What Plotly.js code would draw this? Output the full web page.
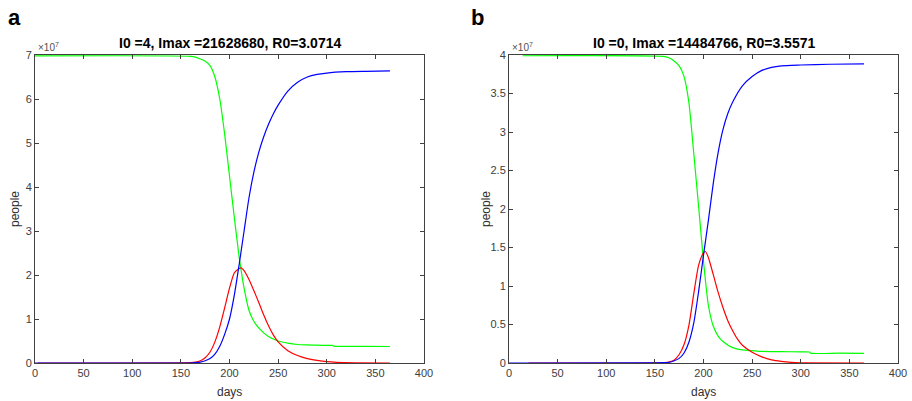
<!DOCTYPE html>
<html>
<head>
<meta charset="utf-8">
<script src="https://cdn.plot.ly/plotly-3.0.1.min.js"></script>
<style>html,body{margin:0;padding:0;background:#fff}#chart{width:912px;height:401px}</style>
</head>
<body>
<div id="chart"></div>
<script>
// ---- Panel a (values in units of 1e7 people) ----
const aS_days = [0, 160, 165, 170, 175, 180, 185, 190, 195, 200, 205, 210, 215, 220, 225, 230, 240, 250, 260, 270, 280, 290, 300, 306, 307, 320, 340, 365];
const aS_vals = [6.98, 6.97, 6.95, 6.91, 6.86, 6.76, 6.5, 6.0, 5.2, 4.25, 3.3, 2.4, 1.7, 1.2, 0.95, 0.8, 0.6, 0.5, 0.45, 0.42, 0.41, 0.405, 0.4, 0.4, 0.385, 0.38, 0.38, 0.375];
const aR_days = [0, 160, 165, 170, 175, 180, 185, 190, 195, 200, 205, 210, 215, 220, 225, 230, 235, 240, 245, 250, 260, 270, 280, 290, 300, 320, 340, 365];
const aR_vals = [0, 0.005, 0.01, 0.02, 0.05, 0.1, 0.2, 0.38, 0.65, 1.0, 1.55, 2.25, 3.0, 3.75, 4.33, 4.78, 5.13, 5.42, 5.66, 5.86, 6.18, 6.38, 6.5, 6.56, 6.59, 6.62, 6.63, 6.64];
const aI_days = [3, 160, 165, 170, 175, 180, 185, 190, 195, 200, 205, 210, 212, 215, 220, 225, 230, 235, 240, 245, 250, 260, 270, 280, 290, 300, 310, 330, 365];
const aI_vals = [0, 0.01, 0.02, 0.05, 0.12, 0.25, 0.48, 0.82, 1.25, 1.7, 2.05, 2.15, 2.163, 2.1, 1.9, 1.65, 1.38, 1.1, 0.85, 0.64, 0.48, 0.28, 0.17, 0.1, 0.06, 0.03, 0.015, 0.005, 0];

// ---- Panel b ----
const bS_days = [14, 160, 165, 170, 175, 180, 185, 190, 195, 200, 205, 210, 215, 220, 230, 240, 250, 260, 280, 300, 309, 310, 340, 365];
const bS_vals = [3.99, 3.98, 3.96, 3.92, 3.86, 3.72, 3.38, 2.72, 2.03, 1.32, 0.75, 0.48, 0.35, 0.28, 0.2, 0.17, 0.16, 0.15, 0.147, 0.145, 0.143, 0.128, 0.127, 0.125];
const bR_days = [0, 160, 165, 170, 175, 180, 185, 190, 195, 200, 205, 210, 215, 220, 225, 230, 240, 250, 260, 270, 280, 300, 330, 365];
const bR_vals = [0, 0.005, 0.01, 0.03, 0.06, 0.13, 0.27, 0.52, 0.93, 1.4, 1.85, 2.33, 2.73, 3.03, 3.24, 3.39, 3.6, 3.72, 3.8, 3.84, 3.86, 3.87, 3.88, 3.885];
const bI_days = [20, 160, 165, 170, 175, 180, 185, 190, 195, 200, 202, 205, 210, 215, 220, 225, 230, 235, 240, 250, 260, 270, 280, 290, 300, 365];
const bI_vals = [0, 0.005, 0.015, 0.04, 0.11, 0.24, 0.49, 0.9, 1.27, 1.43, 1.448, 1.37, 1.15, 0.92, 0.72, 0.55, 0.42, 0.31, 0.23, 0.14, 0.08, 0.04, 0.02, 0.008, 0.003, 0];

const titleA = "I0 =4, Imax =21628680, R0=3.0714";
const titleB = "I0 =0, Imax =14484766, R0=3.5571";
const xTicks = [0, 50, 100, 150, 200, 250, 300, 350, 400];

const GREEN = '#00ff00', BLUE = '#0000ff', RED = '#ff0000';
const W = 912, H = 401;
const px = x => x / W, py = y => 1 - y / H;

function line(x, y, color, xa, ya) {
  return {x: x, y: y, type: 'scatter', mode: 'lines', line: {color: color, width: 1.2, shape: 'spline', smoothing: 0.6}, xaxis: xa, yaxis: ya, hoverinfo: 'skip', showlegend: false};
}
const traces = [
  line(aS_days, aS_vals, GREEN, 'x', 'y'),
  line(aI_days, aI_vals, RED, 'x', 'y'),
  line(aR_days, aR_vals, BLUE, 'x', 'y'),
  line(bS_days, bS_vals, GREEN, 'x2', 'y2'),
  line(bI_days, bI_vals, RED, 'x2', 'y2'),
  line(bR_days, bR_vals, BLUE, 'x2', 'y2')
];

const FAM = 'Liberation Sans, Arial, sans-serif';
const axColor = '#404040';
const tickFont = {family: FAM, size: 11, color: '#404040'};
function xax(dom, anchor) {
  return {domain: dom, anchor: anchor, range: [0, 400], tickvals: xTicks, ticks: 'inside', ticklen: 4, tickcolor: axColor,
    showline: true, linecolor: axColor, linewidth: 1, mirror: 'ticks', showgrid: false, zeroline: false, tickfont: tickFont, fixedrange: true};
}
function yax(dom, anchor, max, dt) {
  return {domain: dom, anchor: anchor, range: [0, max], dtick: dt, tick0: 0, ticks: 'inside', ticklen: 4, tickcolor: axColor,
    showline: true, linecolor: axColor, linewidth: 1, mirror: 'ticks', showgrid: false, zeroline: false, tickfont: tickFont, fixedrange: true};
}
const yDom = [py(363), py(55)];

function ann(text, x, y, size, color, opts) {
  return Object.assign({text: text, x: px(x), y: py(y), xref: 'paper', yref: 'paper', showarrow: false,
    xanchor: 'center', yanchor: 'middle', font: {family: FAM, size: size, color: color}}, opts || {});
}

const layout = {
  width: W, height: H,
  margin: {l: 0, r: 0, t: 0, b: 0},
  paper_bgcolor: '#fff', plot_bgcolor: '#fff',
  font: {family: FAM},
  xaxis: xax([px(35), px(424)], 'y'),
  yaxis: yax(yDom, 'x', 7, 1),
  xaxis2: xax([px(509), px(898)], 'y2'),
  yaxis2: yax(yDom, 'x2', 4, 0.5),
  annotations: [
    ann('<b>a</b>', 6, 17, 22, '#000', {xanchor: 'left'}),
    ann('<b>b</b>', 469, 17, 22, '#000', {xanchor: 'left'}),
    ann('<b>' + titleA + '</b>', 229.5, 43, 14, '#000'),
    ann('<b>' + titleB + '</b>', 703.5, 43, 14, '#000'),
    ann('×10<sup>7</sup>', 36, 47, 10, '#505050', {xanchor: 'left'}),
    ann('×10<sup>7</sup>', 510, 47, 10, '#505050', {xanchor: 'left'}),
    ann('people', 15, 209, 12, '#303030', {textangle: -90}),
    ann('people', 486, 209, 12, '#303030', {textangle: -90}),
    ann('days', 229.5, 392, 12, '#303030'),
    ann('days', 703.5, 392, 12, '#303030')
  ]
};

Plotly.newPlot('chart', traces, layout, {displayModeBar: false, staticPlot: true});
</script>
</body>
</html>
